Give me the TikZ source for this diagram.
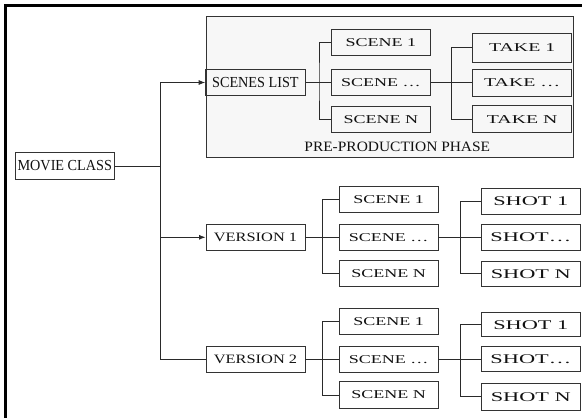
\documentclass[tikz,border=0pt]{standalone}
\usepackage{fontspec}
\setmainfont{Liberation Serif}
\newfontfamily\fcond[FakeStretch=0.93]{Liberation Serif}
\newfontfamily\fphase[FakeStretch=1.08]{Liberation Serif}
\newfontfamily\fscene[FakeStretch=1.5]{Liberation Serif}
\newfontfamily\ftake[FakeStretch=1.65]{Liberation Serif}
\newfontfamily\fshot[FakeStretch=1.68]{Liberation Serif}
\newfontfamily\fver[FakeStretch=1.28]{Liberation Serif}
\usetikzlibrary{arrows.meta}
\definecolor{linec}{HTML}{2A2A2A}
\definecolor{boxc}{HTML}{333333}
\definecolor{txtc}{HTML}{111111}
\definecolor{phasefill}{HTML}{F7F7F7}
\tikzset{
  box/.style={draw=boxc, line width=0.9pt, rectangle, inner sep=0pt, anchor=center, text=txtc},
  bigbox/.style={box, minimum width=99.5pt, minimum height=26.5pt, font=\fcond\fontsize{15.3}{15.3}\selectfont},
  scenebox/.style={box, minimum width=99pt, minimum height=26pt, font=\fscene\fontsize{12}{12}\selectfont},
  takebox/.style={box, minimum width=99pt, minimum height=27pt, font=\ftake\fontsize{12}{12}\selectfont},
  shotbox/.style={box, minimum width=99.5pt, minimum height=26pt, font=\fshot\fontsize{13.3}{13.3}\selectfont},
  verbox/.style={box, minimum width=99pt, minimum height=26.5pt, font=\fver\fontsize{12.8}{12.8}\selectfont},
  conn/.style={draw=linec, line width=0.9pt},
  arr/.style={conn, -{Latex[length=6.5pt,width=5pt]}},
}
\begin{document}
\begin{tikzpicture}[x=1pt,y=-1pt]
\useasboundingbox (0,0) rectangle (585,417);
% outer frame (left and top edges)
\coordinate (fbl) at (5,417);
\coordinate (ftl) at (5,6);
\coordinate (ftr) at (580,6);
\draw[line width=3pt, line cap=rect] (fbl) -- (ftl) -- (ftr);
% pre-production phase area
\node[draw=boxc, fill=phasefill, line width=0.9pt, rectangle, inner sep=0pt, minimum width=367pt, minimum height=140.7pt, anchor=north west] (phase) at (205.7,16) {};
\node[text=txtc, font=\fphase\fontsize{14.3}{14.3}\selectfont, anchor=center] (phaselbl) at (397.3,146.5) {PRE-PRODUCTION PHASE};

% main nodes
\node[bigbox] (movie) at (64.8,166) {MOVIE CLASS};
\node[bigbox] (slist) at (255.4,82.5) {SCENES LIST};
\node[verbox] (v1) at (255.5,237.3) {VERSION 1};
\node[verbox] (v2) at (255.5,359.3) {VERSION 2};

% pre-production scenes and takes
\node[scenebox] (ps1) at (380.9,42.2) {SCENE 1};
\node[scenebox, minimum height=26.7pt] (ps2) at (380.9,82.5) {SCENE \ldots};
\node[scenebox] (ps3) at (380.9,119.7) {SCENE N};
\node[takebox, minimum height=29pt] (pt1) at (522.2,47.8) {TAKE 1};
\node[takebox] (pt2) at (522.2,82.5) {TAKE \ldots};
\node[takebox] (pt3) at (522.2,119.4) {TAKE N};

% version 1 scenes and shots
\node[scenebox, minimum height=26.7pt] (a1) at (388.5,199.3) {SCENE 1};
\node[scenebox, minimum height=26.4pt] (a2) at (388.5,237.3) {SCENE \ldots};
\node[scenebox, minimum height=26.7pt] (a3) at (388.5,273.3) {SCENE N};
\node[shotbox] (h1) at (530.8,201.3) {SHOT 1};
\node[shotbox] (h2) at (530.8,237.3) {SHOT\ldots};
\node[shotbox, minimum height=25.7pt] (h3) at (530.8,273.8) {SHOT N};

% version 2 scenes and shots
\node[scenebox, minimum height=25.7pt] (b1) at (388.5,321.2) {SCENE 1};
\node[scenebox, minimum height=25.7pt] (b2) at (388.5,359.3) {SCENE \ldots};
\node[scenebox, minimum height=26.6pt] (b3) at (388.5,395) {SCENE N};
\node[shotbox, minimum height=24pt] (k1) at (530.8,324.7) {SHOT 1};
\node[shotbox, minimum height=25pt] (k2) at (530.8,359.3) {SHOT\ldots};
\node[shotbox, minimum height=26.7pt] (k3) at (530.8,396.7) {SHOT N};

% trunk
\coordinate (tr) at (160.7,166);
\draw[conn] (movie.east) -- (tr);
\draw[arr] (tr) |- (slist.west);
\draw[arr] (tr) |- (v1.west);
\draw[conn] (tr) |- (v2.west);

% branch points
\coordinate (bs) at (319,82.5);
\coordinate (bt) at (451.7,82.5);
\coordinate (ba) at (322.3,237.3);
\coordinate (bh) at (460.7,237.3);
\coordinate (bb) at (322.3,359.3);
\coordinate (bk) at (460.7,359.3);

% pre-production connectors
\draw[conn] (slist.east) -- (ps2.west);
\draw[conn] (ps1.west) -| (bs) |- (ps3.west);
\draw[conn] (ps2.east) -- (pt2.west);
\draw[conn] (pt1.west) -| (bt) |- (pt3.west);

% version 1 connectors
\draw[conn] (v1.east) -- (a2.west);
\draw[conn] (a1.west) -| (ba) |- (a3.west);
\draw[conn] (a2.east) -- (h2.west);
\draw[conn] (h1.west) -| (bh) |- (h3.west);

% version 2 connectors
\draw[conn] (v2.east) -- (b2.west);
\draw[conn] (b1.west) -| (bb) |- (b3.west);
\draw[conn] (b2.east) -- (k2.west);
\draw[conn] (k1.west) -| (bk) |- (k3.west);
\end{tikzpicture}
\end{document}
